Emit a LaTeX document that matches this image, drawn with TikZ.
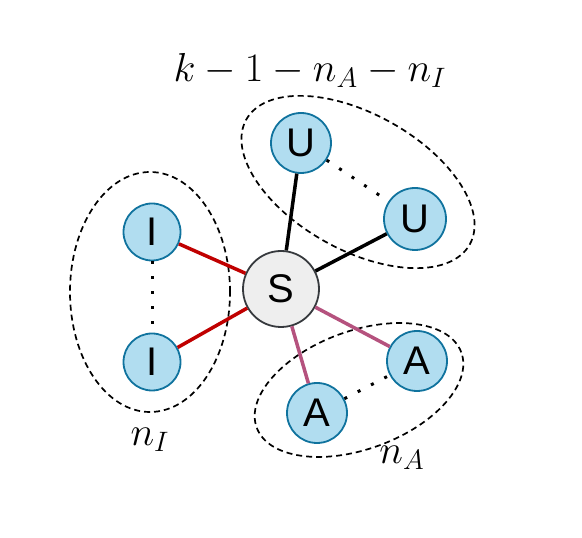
\documentclass[tikz,border=0pt]{standalone}
\usepackage{fontspec}
\setsansfont{Liberation Sans}
\usetikzlibrary{positioning}
\definecolor{nblue}{HTML}{B1DDF0}
\definecolor{nbord}{HTML}{10739E}
\definecolor{sgray}{HTML}{EEEEEE}
\definecolor{sbord}{HTML}{36393D}
\definecolor{ired}{HTML}{C00000}
\definecolor{apink}{HTML}{B5527E}
\tikzset{nd/.style = {circle, fill=nblue, draw=nbord, line width=1.8pt,
                      inner sep=0, minimum size=#1,
                      font=\sffamily\fontsize{40}{44}\selectfont}}
\tikzset{hub/.style = {circle, fill=sgray, draw=sbord, line width=1.8pt,
                       inner sep=0, minimum size=76pt,
                       font=\sffamily\fontsize{40}{44}\selectfont}}
\tikzset{lnk/.style = {line width=3.5pt}}
\tikzset{dots/.style = {line width=3pt, dash pattern=on 3pt off 12pt}}
\tikzset{grp/.style = {draw, line width=1.7pt, dash pattern=on 6pt off 4pt}}
\tikzset{lbl/.style = {font=\huge, scale=1.95}}
\tikzset{every picture/.style={x=1pt, y=1pt}}

\begin{document}
\begin{tikzpicture}
      \useasboundingbox (0,0) rectangle (582,538);
      \draw[grp] (150,246) ellipse [x radius=80, y radius=120];
      \draw[grp, rotate around={-29.2:(358,356)}]
        (358,356) ellipse [x radius=128, y radius=68];
      \draw[grp, rotate around={20.2:(359,148)}]
        (359,148) ellipse [x radius=109, y radius=59];
      \node[hub] (s) at (281,249) {S};
      \node[nd=60pt] (u1) at (301,395) {U};
      \node[nd=62pt] (u2) at (415,319) {U};
      \node[nd=57pt] (i1) at (152,306) {I};
      \node[nd=57pt] (i2) at (152,176) {I};
      \node[nd=60pt] (a1) at (417,177) {A};
      \node[nd=60pt] (a2) at (317,125) {A};
      \draw[lnk, ired] (s) -- (i1);
      \draw[lnk, ired] (s) -- (i2);
      \draw[lnk] (s) -- (u1);
      \draw[lnk] (s) -- (u2);
      \draw[lnk, apink] (s) -- (a1);
      \draw[lnk, apink] (s) -- (a2);
      \draw[dots] (i1) -- (i2);
      \draw[dots] (u1) -- (u2);
      \draw[dots] (a2) -- (a1);
      \node[lbl] (top) at (310,468) {$k-1-n_A-n_I$};
      \node[lbl] (ni) at (150,98) {$n_I$};
      \node[lbl] (na) at (402,80) {$n_A$};
    \end{tikzpicture}
\end{document}
